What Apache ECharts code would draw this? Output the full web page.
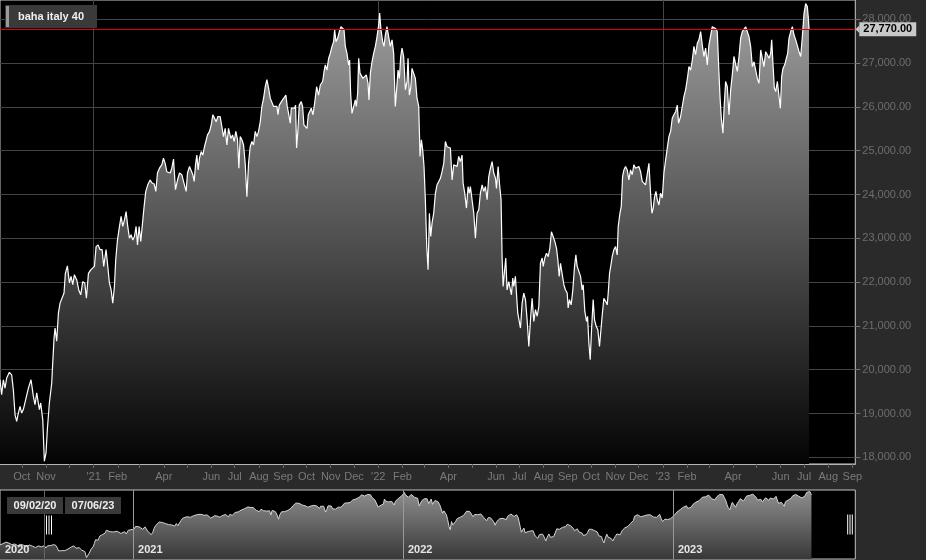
<!DOCTYPE html>
<html><head><meta charset="utf-8">
<script src="https://cdn.jsdelivr.net/npm/echarts@6/dist/echarts.min.js"></script>
<style>html,body{margin:0;padding:0;background:#2a2a2a}#c{width:926px;height:560px}</style>
</head><body><div id="c"></div>
<script>
// ---------------- data ----------------
const seriesName = 'baha italy 40';
const startDate = '2020-09-03';      // day 0 of the day offsets below
const navStartDate = '2020-07-05';
const endDate = '2023-09-04T17:00:00Z';
// day offsets from startDate (negative = only visible in the navigator)
const days = [
-60,-56,-52,-48,-44,-40,-36,-32,-28,-24,-20,-16,-12,-8,-4,-2,
0,2.1,4.3,6.4,8.6,12.0,15.0,17.1,19.3,21.4,23.5,25.7,27.8,29.9,33.4,36.4,39.8,42.8,44.9,47.1,
50.5,52.2,54.8,56.9,59.0,60.7,63.3,66.3,67.6,69.3,70.6,72.7,74.9,77.0,79.1,82.1,83.8,86.4,89.0,91.1,
93.3,95.4,98.4,101.0,103.5,106.1,108.7,110.8,113.4,116.4,118.9,121.1,123.2,125.8,128.3,130.9,133.0,136.0,137.8,140.3,
142.5,144.6,146.7,148.4,150.6,153.2,155.3,157.4,159.6,161.7,163.8,166.0,168.1,170.3,172.4,174.5,176.3,178.4,180.5,182.7,
184.8,186.9,189.5,192.5,194.6,197.6,199.8,201.9,204.5,207.5,209.6,211.8,213.9,216.0,218.2,220.3,222.5,225.0,227.6,230.2,
233.2,235.3,237.4,238.7,240.4,243.0,245.1,247.3,249.0,250.7,252.4,254.1,255.8,258.0,260.1,262.2,264.4,266.1,268.7,270.8,
272.9,275.1,277.2,279.4,282.3,284.5,286.6,288.8,290.9,293.0,
296.0,298.2,300.3,302.4,304.6,306.3,308.0,310.2,312.3,314.4,316.6,318.7,320.8,323.0,325.1,327.3,329.4,331.5,333.7,335.8,
338.0,340.1,342.2,344.4,346.5,348.7,350.8,352.9,355.1,356.4,358.1,360.6,362.3,364.5,366.6,368.3,370.0,372.2,373.5,375.6,
377.7,379.0,380.3,382.0,383.7,386.3,388.0,389.7,391.4,393.6,395.3,397.4,399.1,401.3,403.4,406.0,408.5,410.7,413.7,415.8,
417.1,419.2,421.4,423.5,425.7,427.8,429.1,430.8,433.0,435.1,437.2,439.4,441.1,442.8,444.9,447.0,448.3,449.6,451.3,453.5,
455.6,456.9,458.6,459.9,461.6,463.3,465.4,467.6,469.7,471.9,473.1,474.9,477.0,479.1,481.3,483.4,485.5,486.8,488.5,490.7,
492.4,494.1,496.2,498.4,500.5,502.7,504.8,506.9,508.7,510.4,512.1,513.8,515.5,517.6,519.8,521.9,523.2,524.9,526.6,528.3,
530.5,532.6,534.7,536.9,538.6,540.3,542.0,543.7,545.4,547.2,548.9,550.6,552.3,554.0,556.1,558.3,560.4,562.6,564.7,566.8,
569.0,571.1,573.2,575.4,577.5,579.7,581.8,583.9,
586.1,588.2,590.4,592.5,593.8,595.9,598.1,600.2,601.9,603.2,605.3,607.5,609.6,611.7,613.9,616.0,618.2,620.3,622.4,624.6,
626.7,628.9,631.0,633.1,635.3,636.6,638.7,640.8,642.5,643.8,645.1,646.8,648.5,650.2,652.4,654.5,655.8,657.5,658.8,660.9,
662.2,663.9,665.6,667.4,669.5,671.6,673.8,675.9,678.1,680.2,682.3,684.5,686.6,688.8,690.9,693.0,695.2,696.5,698.6,700.7,
702.9,705.0,707.1,709.3,711.4,713.6,715.3,717.0,718.7,720.8,723.0,725.1,727.3,728.5,730.2,732.4,734.5,736.7,738.4,740.1,
742.2,744.4,746.5,747.8,749.9,752.1,753.4,755.1,756.8,758.5,760.6,762.3,764.5,766.6,768.7,770.5,772.2,774.3,776.5,778.6,
779.9,781.6,783.7,785.0,787.1,789.3,791.4,792.7,794.9,796.6,798.3,800.0,802.1,804.3,806.4,808.5,810.7,812.8,814.9,817.1,
819.2,821.4,823.5,825.6,827.8,829.9,832.1,834.2,835.9,837.6,839.3,841.1,842.8,844.9,847.0,849.2,851.3,853.5,855.6,857.7,
859.9,862.0,864.1,866.3,868.4,870.1,872.7,
874.8,877.0,879.1,881.2,883.4,885.5,887.7,889.8,891.9,894.1,896.2,898.4,900.5,902.6,904.8,906.9,909.0,911.2,913.3,915.5,
917.6,919.7,921.9,923.2,924.9,927.0,928.3,930.4,932.6,934.7,936.9,939.0,941.1,943.3,945.4,947.6,949.7,951.8,954.0,956.1,
958.2,960.4,962.5,964.7,966.8,968.9,971.1,973.2,975.4,977.5,979.6,981.8,983.9,986.1,988.2,989.5,991.2,992.9,994.6,996.8,
998.9,1000.6,1002.3,1004.0,1006.2,1008.3,1010.0,1011.7,1013.9,1016.0,1018.1,1020.3,1022.4,1024.6,1026.7,1028.8,1031.0,1033.1,1035.2,1036.5,
1037.4
];
const values = [
19900,20100,20350,20200,19950,20050,19800,20000,19850,19650,19900,19700,19500,19750,19600,19500,
19770,19430,19770,19580,19810,19940,19880,19540,18970,18820,19010,19160,19010,19090,19350,19580,19770,19390,19200,19470,
19090,19240,18860,17910,18100,18630,19240,19690,20150,20720,20950,20650,21290,21520,21560,21750,22200,22370,21980,22130,
21940,22170,22050,21820,21710,22010,21980,21630,22200,22280,22240,22360,22810,22850,22740,22740,22360,22740,22430,21980,
21820,21520,21900,22510,22960,23270,23500,23270,23420,23610,23270,23000,23080,22960,23040,23270,22850,23270,22930,22960,
23730,24070,24220,24330,24270,24240,24070,24490,24600,24680,24830,24710,24520,24560,24490,24600,24810,24110,24330,24490,
24450,24300,24260,24070,24490,24640,24680,24450,24300,24680,24900,24560,24830,24980,24900,25090,25130,25360,25440,25590,
25820,25850,25660,25780,25780,25740,25320,25510,25130,25510,
25280,25360,25210,25440,25250,24600,25320,25250,25130,24710,23950,24710,25090,25210,25130,25440,25320,25440,25660,26010,
26200,26460,26620,26430,26200,26160,26010,26040,26010,25820,26040,26010,26160,26120,26270,26010,25850,25630,25970,26010,
25970,26040,25060,25470,26040,26120,26010,25590,25630,25510,25820,25820,25970,25820,26080,26460,26270,26500,26580,26840,
26960,26840,27110,27220,27380,27490,27760,27490,27570,27720,27830,27790,27760,27380,27220,26960,27070,26310,25850,25820,
26160,26010,26310,27110,26770,26810,26650,26620,26730,26540,26160,26770,27030,27220,27380,27600,27870,28140,27760,27490,
27380,27640,27830,27600,27380,27530,27220,26010,26040,26840,26650,27150,27340,27150,26390,26580,27110,26270,26430,26880,
26920,26650,26200,26010,24870,25250,25020,24640,23880,22810,22280,23570,23040,23350,23570,24030,24220,24260,24370,24520,
24710,25210,25090,25130,25060,24330,24680,24710,
24640,24870,24750,24900,24260,24030,23690,24180,24030,24180,23880,23570,23000,23570,23650,24030,24220,24070,24180,23880,
24410,24600,24750,24490,24370,24140,24640,24180,23880,22580,21900,21940,22550,21820,22010,22010,21710,22090,21900,22130,
21750,21290,21290,20950,21520,21750,21600,21140,20530,21140,21630,21100,21370,21220,21440,22430,22550,22360,22550,22660,
22580,22770,23150,23120,22930,22770,22510,22130,22430,22430,21940,21820,21750,21410,21600,21480,21820,22360,22620,22360,
22320,22130,21820,21940,21330,21100,21220,20610,20230,20910,21600,21140,20990,20910,20530,20530,21250,21630,21560,21480,
21750,22200,22430,22580,22740,22810,22620,23270,23570,23730,24410,24560,24640,24560,24330,24560,24450,24680,24600,24560,
24640,24520,24300,24260,24220,24220,24710,24030,23570,23690,23950,24070,23880,23760,24030,23920,24490,24790,25060,25320,
25440,25740,25820,25890,26040,25630,25780,
25820,26240,26390,26620,26920,26840,27070,27380,27190,27450,27530,27720,27410,27150,27340,26960,27410,27380,27830,27870,
27790,27720,26770,26240,25740,25400,25930,26580,26460,25820,26390,26730,27150,27110,26810,27150,27570,27720,27680,27830,
27870,27600,27380,26920,27030,27070,26650,26540,27300,27260,26920,27260,27190,27110,27220,27530,26960,26430,26350,26580,
26540,25970,26690,26880,26960,27110,27220,27570,27720,27830,27640,27530,27530,27260,27150,27600,28140,28360,28290,28020,
27770
];
const lastValue = 27770;
const yTicks = [18000,19000,20000,21000,22000,23000,24000,25000,26000,27000,28000];
const monthTicks = ['2020-10-01','2020-11-01','2020-12-01','2021-01-01','2021-02-01','2021-03-01','2021-04-01','2021-05-01',
  '2021-06-01','2021-07-01','2021-08-01','2021-09-01','2021-10-01','2021-11-01','2021-12-01','2022-01-01','2022-02-01',
  '2022-03-01','2022-04-01','2022-05-01','2022-06-01','2022-07-01','2022-08-01','2022-09-01','2022-10-01','2022-11-01',
  '2022-12-01','2023-01-01','2023-02-01','2023-03-01','2023-04-01','2023-05-01','2023-06-01','2023-07-01','2023-08-01','2023-09-01'];
const monthLabels = ['Oct','Nov','',"'21",'Feb','','Apr','','Jun','Jul','Aug','Sep','Oct','Nov','Dec',"'22",'Feb',
  '','Apr','','Jun','Jul','Aug','Sep','Oct','Nov','Dec',"'23",'Feb','','Apr','','Jun','Jul','Aug','Sep'];
const yearTicks = ['2021-01-01','2022-01-01','2023-01-01'];
const navYearLabels = ['2020','2021','2022','2023'];
const rangeLabels = ['09/02/20','07/06/23'];

// ---------------- chart ----------------
const DAY = 86400000;
const t = s => Date.parse(s.length === 10 ? s + 'T00:00:00Z' : s);
const t0 = t(startDate), tEnd = t(endDate), tNav = t(navStartDate);
const data = days.map((d, i) => [t0 + d * DAY, values[i]]);
const mainData = data.filter(p => p[0] >= t0);
const labelMap = new Map(monthTicks.map((m, i) => [t(m), monthLabels[i]]));
const labelVals = monthTicks.filter((m, i) => monthLabels[i]).map(t);
const yearVals = yearTicks.map(t);
const navLabelVals = [tNav].concat(yearVals);
const fmt = v => v.toFixed(2).replace(/\B(?=(\d{3})+(?!\d))/g, ',');
const FONT = "'Liberation Sans', Arial, sans-serif";

const chart = echarts.init(document.getElementById('c'), null, {renderer: 'canvas'});
chart.setOption({
  backgroundColor: '#2a2a2a',
  animation: false,
  textStyle: {fontFamily: FONT},
  legend: {
    left: 5, top: 5, padding: [1, 13, 1, 1], backgroundColor: '#3a3a3a',
    itemWidth: 3, itemHeight: 21, selectedMode: false,
    data: [{name: seriesName, icon: 'rect', itemStyle: {color: '#9a9a9a'}}],
    textStyle: {color: '#f0f0f0', fontWeight: 'bold', fontSize: 11, fontFamily: FONT, padding: [0, 0, 0, 4]}
  },
  grid: [
    {left: 0, top: 0, width: 855.3, height: 464, show: true, backgroundColor: '#000', borderColor: '#c8c8d2', borderWidth: 1},
    {left: 0, top: 490, width: 855.3, height: 69, show: true, backgroundColor: '#000', borderColor: '#c0c0cc', borderWidth: 1}
  ],
  xAxis: [
    {type: 'value', gridIndex: 0, min: t0, max: tEnd,
     axisLine: {show: true, lineStyle: {color: '#b4b4bc'}},
     axisTick: {show: true, customValues: monthTicks.map(t), length: 4, lineStyle: {color: '#666'}},
     axisLabel: {customValues: labelVals, formatter: v => labelMap.get(v) || '', color: '#7a7a7a', fontSize: 11, fontFamily: FONT, margin: 7, hideOverlap: false},
     splitLine: {show: false}},
    {type: 'value', gridIndex: 0, position: 'top', min: t0, max: tEnd,
     axisLine: {show: false}, axisTick: {show: false, customValues: yearVals}, axisLabel: {show: false},
     splitLine: {show: true, lineStyle: {color: '#444'}}},
    {type: 'value', gridIndex: 1, min: tNav, max: tEnd, z: 5,
     axisLine: {show: false}, axisTick: {show: false, customValues: yearVals},
     axisLabel: {show: true, inside: true, customValues: navLabelVals,
       formatter: v => navYearLabels[navLabelVals.indexOf(v)] || '',
       align: 'left', padding: [0, 0, 0, 5], color: '#e6e6e6', fontWeight: 'bold', fontSize: 11, fontFamily: FONT, margin: 4, hideOverlap: false},
     splitLine: {show: true, lineStyle: {color: '#9a9a9a'}}}
  ],
  yAxis: [
    {type: 'value', gridIndex: 0, position: 'right', min: 17847, max: 28440,
     axisLine: {show: false},
     axisTick: {show: true, customValues: yTicks, length: 5, lineStyle: {color: '#777'}},
     axisLabel: {customValues: yTicks, formatter: fmt, color: '#6e6e6e', fontSize: 11, fontFamily: FONT, margin: 7},
     splitLine: {show: true, lineStyle: {color: '#444'}}},
    {type: 'value', gridIndex: 1, min: 17700, max: 28520, show: false}
  ],
  series: [
    {name: seriesName, type: 'line', xAxisIndex: 0, yAxisIndex: 0, data: mainData,
     showSymbol: false, symbol: 'none', z: 3,
     lineStyle: {color: '#ffffff', width: 1.2}, itemStyle: {color: '#ffffff'},
     areaStyle: {origin: 'start', opacity: 1, color: {type: 'linear', x: 0, y: 0, x2: 0, y2: 464, global: true,
       colorStops: [{offset: 0, color: '#a0a0a0'}, {offset: 1, color: '#040404'}]}},
     markLine: {silent: true, symbol: 'none', animation: false,
       lineStyle: {color: '#e00000', type: 'solid', width: 1},
       label: {show: true, position: 'end', formatter: () => fmt(lastValue), distance: 4,
         backgroundColor: '#c8c8c8', color: '#000', fontWeight: 'bold', fontSize: 11, fontFamily: FONT, padding: [2, 4, 1, 4]},
       data: [{yAxis: lastValue}]}},
    {name: 'navigator', type: 'line', xAxisIndex: 2, yAxisIndex: 1, data: data,
     showSymbol: false, symbol: 'none', z: 2,
     lineStyle: {color: '#d4d4d4', width: 1}, itemStyle: {color: '#d4d4d4'},
     areaStyle: {origin: 'start', opacity: 1, color: {type: 'linear', x: 0, y: 490, x2: 0, y2: 559, global: true,
       colorStops: [{offset: 0, color: '#909090'}, {offset: 1, color: '#383838'}]}}}
  ],
  graphic: [
    {type: 'line', shape: {x1: 44.5, y1: 490, x2: 44.5, y2: 560}, style: {stroke: '#666', lineWidth: 1}, z: 10},
    {type: 'line', shape: {x1: 46.5, y1: 515.5, x2: 46.5, y2: 534.5}, style: {stroke: '#fff', lineWidth: 1}, z: 10},
    {type: 'line', shape: {x1: 49, y1: 515.5, x2: 49, y2: 534.5}, style: {stroke: '#fff', lineWidth: 1}, z: 10},
    {type: 'line', shape: {x1: 51.5, y1: 515.5, x2: 51.5, y2: 534.5}, style: {stroke: '#fff', lineWidth: 1}, z: 10},
    {type: 'line', shape: {x1: 847.7, y1: 514.5, x2: 847.7, y2: 534.5}, style: {stroke: '#fff', lineWidth: 1}, z: 10},
    {type: 'line', shape: {x1: 850, y1: 514.5, x2: 850, y2: 534.5}, style: {stroke: '#fff', lineWidth: 1}, z: 10},
    {type: 'line', shape: {x1: 852.3, y1: 514.5, x2: 852.3, y2: 534.5}, style: {stroke: '#fff', lineWidth: 1}, z: 10},
    {type: 'rect', shape: {x: 7, y: 497, width: 56, height: 17}, style: {fill: '#3a3a3a'}, z: 10},
    {type: 'text', x: 35, y: 506, style: {text: rangeLabels[0], fill: '#eeeeee', font: "bold 11px 'Liberation Sans', Arial", align: 'center', verticalAlign: 'middle'}, z: 11},
    {type: 'rect', shape: {x: 65, y: 497, width: 56, height: 17}, style: {fill: '#3a3a3a'}, z: 10},
    {type: 'text', x: 93, y: 506, style: {text: rangeLabels[1], fill: '#eeeeee', font: "bold 11px 'Liberation Sans', Arial", align: 'center', verticalAlign: 'middle'}, z: 11},
    {type: 'polygon', shape: {points: [[855.5, 29.3], [859.5, 25.3], [859.5, 33.3]]}, style: {fill: '#c8c8c8'}, z: 10}
  ]
});
</script></body></html>
